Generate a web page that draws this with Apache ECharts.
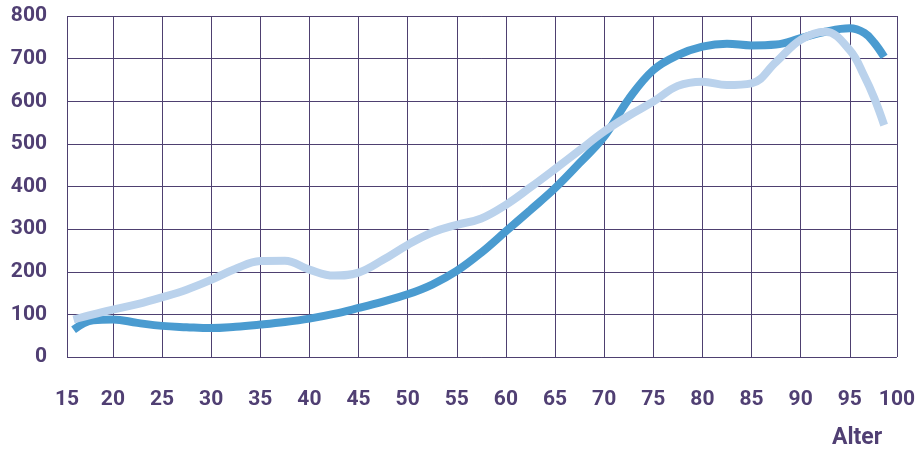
<!DOCTYPE html>
<html>
<head>
<meta charset="utf-8">
<script src="https://cdn.jsdelivr.net/npm/echarts@6/dist/echarts.min.js"></script>
<style>
html,body{margin:0;padding:0;background:#fff;}
#chart{width:918px;height:453px;}
</style>
</head>
<body>
<div id="chart"></div>
<script>
// Age (Alter) sample points
var ages = [16, 18, 20, 22.5, 25, 27.5, 30, 32.5, 35, 37.5, 40, 42.5, 45, 47.5, 50, 52.5, 55, 57.5, 60, 62.5, 65, 67.5, 70, 72.5, 75, 77.5, 80, 82.5, 85, 87.5, 90, 92.5, 95, 96.5, 97.5, 98.5];
// dark blue series
var seriesDark = [64, 86, 88, 80, 73, 70, 68, 71, 76, 82, 90, 101, 115, 130, 147, 170, 202, 245, 295, 345, 396, 455, 517, 605, 673, 708, 728, 735, 731, 733, 748, 763, 771, 760, 737, 704];
// light blue series
var seriesLight = [88, 100, 111, 124, 140, 158, 181, 207, 225, 226, 205, 191, 198, 228, 263, 292, 310, 325, 357, 398, 441, 485, 529, 566, 599, 636, 646, 638, 642, 692, 744, 763, 720, 658, 607, 544];
// axis ticks
var xTicks = [20, 25, 30, 35, 40, 45, 50, 55, 60, 65, 70, 75, 80, 85, 90, 95];
var xMin = 15.33, xMax = 99.8;
var xLabels = [15.33, 20, 25, 30, 35, 40, 45, 50, 55, 60, 65, 70, 75, 80, 85, 90, 95, 99.8];
var yMin = 0, yMax = 800, yStep = 100;
var xName = 'Alter';

function pairs(xs, ys){ return xs.map(function(x,i){ return [x, ys[i]]; }); }

var labelColor = '#503f73';
var gridColor = '#4e4070';
var chart = echarts.init(document.getElementById('chart'), null, {renderer:'canvas'});
chart.setOption({
  animation: false,
  grid: {left: 67, right: 19, top: 16, bottom: 96, containLabel: false},
  xAxis: {
    type: 'value', min: xMin, max: xMax,
    axisLine: {show: false},
    axisTick: {show: false, customValues: [xMin].concat(xTicks).concat([xMax])},
    splitLine: {show: true, lineStyle: {color: gridColor, width: 1}},
    axisLabel: {
      customValues: xLabels,
      formatter: function(v){ return String(Math.round(v)); },
      color: labelColor, fontFamily: 'Roboto', fontWeight: 'bold', fontSize: 21, margin: 32
    }
  },
  yAxis: {
    type: 'value', min: yMin, max: yMax, interval: yStep,
    axisLine: {show: false},
    axisTick: {show: false},
    splitLine: {show: true, lineStyle: {color: gridColor, width: 1}},
    axisLabel: {color: labelColor, fontFamily: 'Roboto', fontWeight: 'bold', fontSize: 21, margin: 20}
  },
  graphic: [{
    type: 'text', left: 832, top: 427,
    style: {text: xName, fill: labelColor, font: 'bold 23px Roboto'}
  }],
  series: [
    {type: 'line', data: pairs(ages, seriesDark), smooth: 0.4, showSymbol: false,
     lineStyle: {color: '#4a9bd0', width: 8, cap: 'butt'}},
    {type: 'line', data: pairs(ages, seriesLight), smooth: 0.4, showSymbol: false,
     lineStyle: {color: '#bad2ec', width: 8, cap: 'butt'}}
  ]
});
</script>
</body>
</html>
